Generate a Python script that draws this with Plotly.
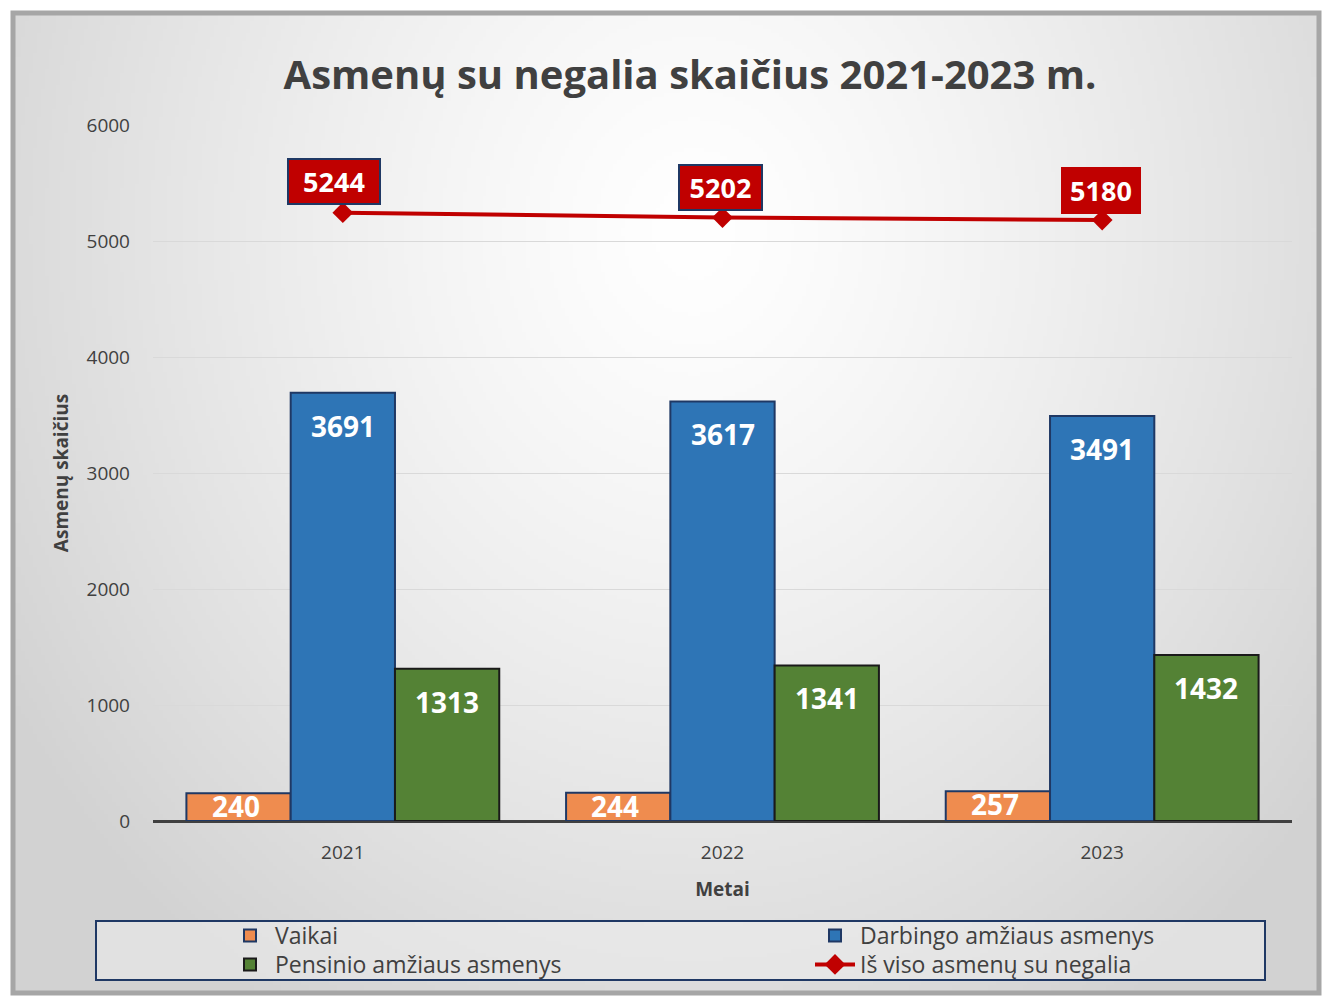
import base64
import struct
import zlib

import numpy as np
import plotly.graph_objects as go

years = ["2021", "2022", "2023"]
vaikai = [240, 244, 257]
darbingo = [3691, 3617, 3491]
pensinio = [1313, 1341, 1432]
is_viso = [5244, 5202, 5180]

title = "Asmenų su negalia skaičius 2021-2023 m."
series_names = ["Vaikai", "Darbingo amžiaus asmenys", "Pensinio amžiaus asmenys",
                "Iš viso asmenų su negalia"]

FONT = "Open Sans"
W, H = 1326, 996
L, R, T, B = 153, 34, 125, 175
PW, PH = W - L - R, H - T - B
BARGAP = 0.176


def px_x(p):
    return (p - L) / PW


def px_y(p):
    return (H - B - p) / PH


def gradient_png(w=330, h=245):
    # radial background, white near top centre, grey at the edges
    yy, xx = np.mgrid[0:h, 0:w]
    cx, cy = w * 0.52, h * 0.22
    d = np.sqrt(((xx - cx) / (w * 0.62)) ** 2 + ((yy - cy) / (h * 0.95)) ** 2)
    d = np.clip(d, 0, 1)
    v = (255 - 45 * d ** 1.3).astype(np.uint8)
    raw = b"".join(b"\x00" + bytes(np.repeat(row, 3)) for row in v)

    def chunk(tag, data):
        c = tag + data
        return struct.pack(">I", len(data)) + c + struct.pack(">I", zlib.crc32(c) & 0xffffffff)

    png = b"\x89PNG\r\n\x1a\n" + chunk(b"IHDR", struct.pack(">IIBBBBB", w, h, 8, 2, 0, 0, 0))
    png += chunk(b"IDAT", zlib.compress(raw, 9)) + chunk(b"IEND", b"")
    return "data:image/png;base64," + base64.b64encode(png).decode()


fig = go.Figure()

fig.add_trace(go.Bar(x=years, y=vaikai, name=series_names[0], legend="legend", showlegend=True,
                     marker=dict(color="#ef8c4f", line=dict(color="#1f3864", width=2))))
fig.add_trace(go.Bar(x=years, y=darbingo, name=series_names[1], legend="legend2",
                     marker=dict(color="#2e75b6", line=dict(color="#1f3864", width=2))))
fig.add_trace(go.Bar(x=years, y=pensinio, name=series_names[2], legend="legend3",
                     marker=dict(color="#548235", line=dict(color="#1a1a1a", width=2))))
fig.add_trace(go.Scatter(x=years, y=is_viso, name=series_names[3], mode="lines+markers",
                         legend="legend4",
                         line=dict(color="#c00000", width=4),
                         marker=dict(symbol="diamond", size=16, color="#c00000")))

# bar value labels, just under the top of each bar
bar_w = PW / len(years) * (1 - BARGAP) / 3
for k, (vals, dy) in enumerate([(vaikai, -13), (darbingo, -33), (pensinio, -33)]):
    for i, v in enumerate(vals):
        fig.add_annotation(x=i, y=v, text=str(v), showarrow=False,
                           xshift=(k - 1) * bar_w - (3 if k == 0 else 0), yshift=dy,
                           font=dict(family=FONT, size=28, color="white", weight="bold"))

# value boxes for the total line (x given as category index)
borders = ["#1f3864", "#1f3864", "#c00000"]
widths = [84, 75, 70]
shifts = [(-9, 31), (-2, 30), (-1, 30)]
for i, (val, bc, bw, (dx, dy)) in enumerate(zip(is_viso, borders, widths, shifts)):
    fig.add_annotation(x=i, y=val, text=str(val), showarrow=False, yshift=dy, xshift=dx,
                       width=bw, height=37, bgcolor="#c00000", bordercolor=bc,
                       borderwidth=2, borderpad=3,
                       font=dict(family=FONT, size=27, color="white", weight="bold"))

# frame and legend box
fig.add_shape(type="rect", xref="paper", yref="paper", layer="below",
              x0=px_x(13), x1=px_x(1319), y0=px_y(993), y1=px_y(13),
              line=dict(color="#a6a6a6", width=5), fillcolor="rgba(0,0,0,0)")
fig.add_shape(type="rect", xref="paper", yref="paper", layer="below",
              x0=px_x(96), x1=px_x(1265), y0=px_y(980), y1=px_y(921),
              line=dict(color="#1f3864", width=2), fillcolor="rgba(240,240,240,0.5)")

fig.add_layout_image(source=gradient_png(), xref="paper", yref="paper",
                     x=px_x(15), y=px_y(15), sizex=(1302) / PW, sizey=(976) / PH,
                     xanchor="left", yanchor="top", sizing="stretch", layer="below")

leg_style = dict(orientation="v", yanchor="top", xanchor="left", bgcolor="rgba(0,0,0,0)",
                 font=dict(family=FONT, size=23, color="#404040"), tracegroupgap=0,
                 itemwidth=40)

fig.update_layout(
    width=W, height=H, showlegend=True,
    margin=dict(l=L, r=R, t=T, b=B, autoexpand=False),
    paper_bgcolor="white", plot_bgcolor="rgba(0,0,0,0)",
    barmode="group", bargap=BARGAP, bargroupgap=0,
    font=dict(family=FONT, color="#404040"),
    title=dict(text=title, x=(690) / W, xanchor="center", y=1 - 75 / H, yanchor="middle",
               font=dict(family=FONT, size=40, color="#404040", weight="bold")),
    legend=dict(x=px_x(225), y=px_y(914), **leg_style),
    legend2=dict(x=px_x(810), y=px_y(914), **leg_style),
    legend3=dict(x=px_x(225), y=px_y(943), **leg_style),
    legend4=dict(x=px_x(810), y=px_y(943), **leg_style),
    xaxis=dict(type="category", range=[-0.5, 2.5],
               title=dict(text="Metai", font=dict(size=19, weight="bold", color="#404040"),
                          standoff=18),
               tickfont=dict(size=19, color="#404040"), showgrid=False,
               showline=False, ticks="", ticklabelstandoff=18),
    yaxis=dict(title=dict(text="Asmenų skaičius", font=dict(size=19, weight="bold", color="#404040"),
                          standoff=12),
               range=[0, 6000], dtick=1000, tickfont=dict(size=19, color="#404040"),
               gridcolor="#d9d9d9", gridwidth=1, zeroline=True, zerolinecolor="#404040",
               zerolinewidth=3, ticks="", ticklabelstandoff=22),
)

fig.write_html("out.html", config={"displayModeBar": False},
               post_script="document.body.style.margin='0';")
